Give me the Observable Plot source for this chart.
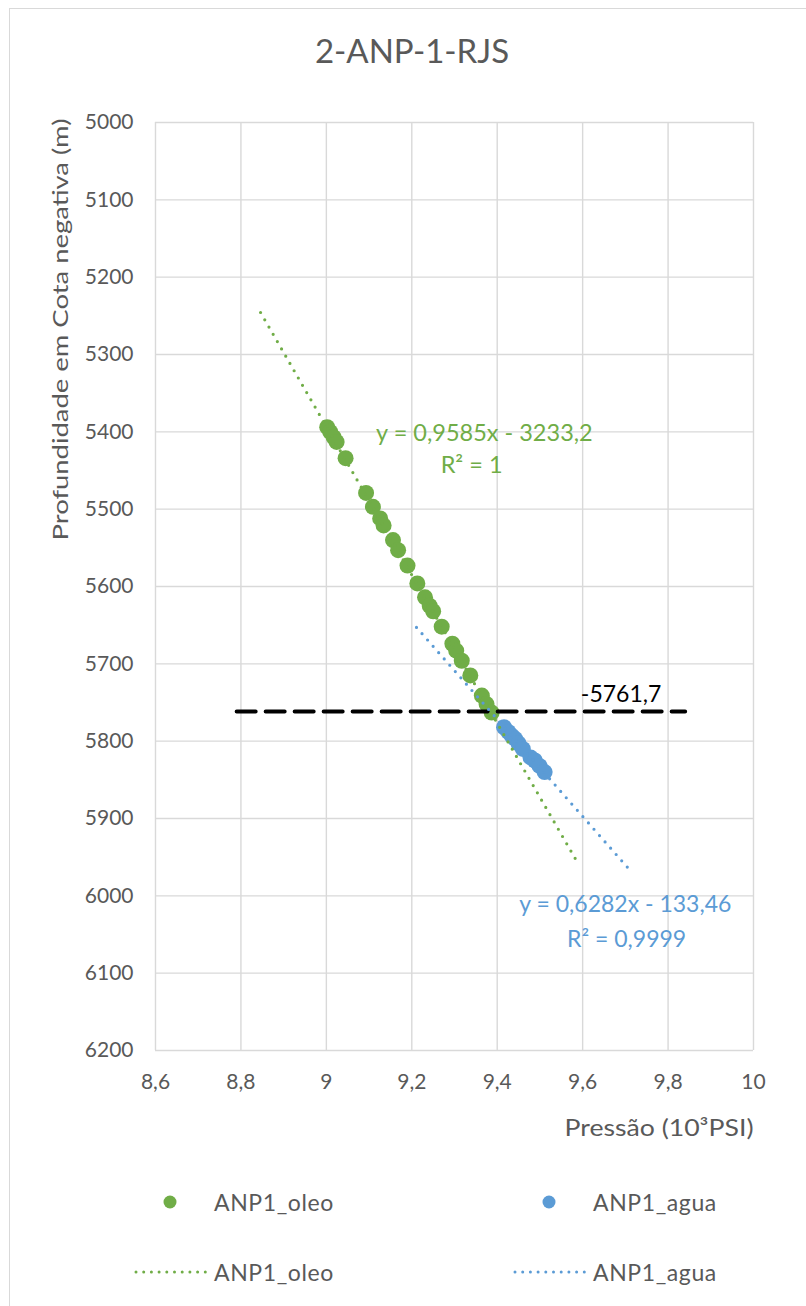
<!DOCTYPE html>
<html>
<head>
<meta charset="utf-8">
<script src="https://cdn.jsdelivr.net/npm/d3@7"></script>
<script src="https://cdn.jsdelivr.net/npm/@observablehq/plot@0.6"></script>
<style>
  html, body { margin: 0; padding: 0; background: #fff; }
  body { font-family: Lato, "Open Sans", sans-serif; color: #595959; width: 806px; height: 1306px; overflow: hidden; position: relative; }
  #frame { position: absolute; left: 9px; top: 8px; width: 820px; height: 1330px; border: 1px solid #d9d9d9; box-sizing: border-box; pointer-events: none; }
  #title { height: 100px; line-height: 100px; text-align: center; padding-left: 18px; font-size: 33px; color: #595959; }
  #plot svg { display: block; }
  #legend { position: relative; height: 156px; font-size: 23px; letter-spacing: 0.6px; color: #595959; }
  .item { position: absolute; height: 30px; }
  .item svg { position: absolute; left: 0; top: 0; }
  .item span { position: absolute; white-space: nowrap; line-height: 30px; }
</style>
</head>
<body>
<div id="frame"></div>
<div id="title">2-ANP-1-RJS</div>
<div id="plot"></div>
<div id="legend"></div>
<script>
// Pressure (10³ psi) and depth below datum (m) for the oil-zone points
const oleoPressao = [9.002, 9.009, 9.017, 9.024, 9.045, 9.093, 9.109, 9.126, 9.134, 9.156, 9.168, 9.190,
                     9.213, 9.231, 9.242, 9.250, 9.270, 9.295, 9.304, 9.317, 9.337, 9.364, 9.375, 9.387];
const oleoProf = [5394, 5400, 5407, 5413, 5434, 5479, 5497, 5512, 5521, 5540, 5553, 5573,
                  5596, 5614, 5625, 5632, 5652, 5674, 5683, 5696, 5715, 5741, 5752, 5763];

// Pressure and depth for the water-zone points
const aguaPressao = [9.416, 9.426, 9.434, 9.442, 9.450, 9.460, 9.478, 9.488, 9.499, 9.511];
const aguaProf = [5782, 5788, 5793, 5797, 5803, 5810, 5821, 5825, 5832, 5840];

// Linear fits (depth = a·P[psi] + b) and the pressure span each fitted line covers
const oleoFit = {a: 0.9585, b: -3233.2, r2: "1"};
const aguaFit = {a: 0.6282, b: -133.46, r2: "0,9999"};
const oleoFitSpan = [8.846, 9.59];
const aguaFitSpan = [9.211, 9.705];

// Fluid contact depth and the pressure span of its marker line
const contatoProf = 5761.7;
const contatoSpan = [8.79, 9.84];

// Axis ticks
const xTicks = [8.6, 8.8, 9, 9.2, 9.4, 9.6, 9.8, 10];
const yTicks = [5000, 5100, 5200, 5300, 5400, 5500, 5600, 5700, 5800, 5900, 6000, 6100, 6200];

const VERDE = "#70AD47";
const AZUL = "#5B9BD5";
const CINZA = "#595959";
const GRADE = "#d9d9d9";

const virgula = (v, casas) => (casas == null ? String(+v.toFixed(4)) : v.toFixed(casas)).replace(".", ",");
const eqTexto = (f) => `y = ${virgula(f.a)}x - ${virgula(-f.b)}`;

const oleo = oleoPressao.map((p, i) => ({p, d: oleoProf[i]}));
const agua = aguaPressao.map((p, i) => ({p, d: aguaProf[i]}));
const reta = (f, span) => span.map(p => ({p, d: f.a * p * 1000 + f.b}));
const contato = contatoSpan.map(p => ({p, d: contatoProf}));

const pontilhado = {strokeWidth: 3.2, strokeDasharray: "0,8.4", strokeLinecap: "round"};

const Y_TITULO = "Profundidade em Cota negativa (m)";
const X_TITULO = "Pressão (10³PSI)";

const chart = Plot.plot({
  width: 806,
  height: 1050,
  marginTop: 22,
  marginRight: 53,
  marginBottom: 100,
  marginLeft: 155,
  style: {fontFamily: "Lato, 'Open Sans', sans-serif", fontSize: "21px", color: CINZA, background: "transparent", overflow: "visible"},
  x: {domain: [8.6, 10]},
  y: {domain: [5000, 6200], reverse: true},
  marks: [
    Plot.gridX(xTicks, {stroke: GRADE, strokeOpacity: 1, strokeWidth: 1.4}),
    Plot.gridY(yTicks, {stroke: GRADE, strokeOpacity: 1, strokeWidth: 1.4}),
    Plot.axisX(xTicks, {tickSize: 0, tickPadding: 24, tickFormat: d => virgula(d), label: null, fill: CINZA}),
    Plot.axisY(yTicks, {tickSize: 0, tickPadding: 22, tickFormat: d => String(d), label: null, fill: CINZA}),
    Plot.dot(oleo, {x: "p", y: "d", r: 8, fill: VERDE}),
    Plot.dot(agua, {x: "p", y: "d", r: 8, fill: AZUL}),
    Plot.line(contato, {x: "p", y: "d", stroke: "#000", strokeWidth: 4, strokeDasharray: "19,10"}),
    Plot.line(reta(oleoFit, oleoFitSpan), {x: "p", y: "d", stroke: VERDE, ...pontilhado}),
    Plot.line(reta(aguaFit, aguaFitSpan), {x: "p", y: "d", stroke: AZUL, ...pontilhado}),
    // Contact depth label
    Plot.text([contatoProf], {x: 9.69, y: d => d, text: d => "-" + virgula(d, 1), dy: -17, fill: "#000", fontSize: 23}),
    // Fit equations
    Plot.text([eqTexto(oleoFit)], {x: 9.37, y: 5402, fill: VERDE, fontSize: 23.5}),
    Plot.text([`R² = ${oleoFit.r2}`], {x: 9.34, y: 5443, fill: VERDE, fontSize: 23.5}),
    Plot.text([eqTexto(aguaFit)], {x: 9.70, y: 6012, fill: AZUL, fontSize: 23}),
    Plot.text([`R² = ${aguaFit.r2}`], {x: 9.703, y: 6057, fill: AZUL, fontSize: 23}),
    // Axis titles
    Plot.text([Y_TITULO], {frameAnchor: "top-left", textAnchor: "middle", rotate: -90, dx: -103, dy: 207, fill: CINZA, fontSize: 22}),
    Plot.text([X_TITULO], {frameAnchor: "bottom-right", textAnchor: "end", dy: 85, fill: CINZA, fontSize: 24})
  ]
});

// Stretch the axis titles over their full spans
d3.select(chart).selectAll("text")
  .filter(function () { return this.textContent === Y_TITULO; })
  .attr("textLength", 422).attr("lengthAdjust", "spacingAndGlyphs");
d3.select(chart).selectAll("text")
  .filter(function () { return this.textContent === X_TITULO; })
  .attr("textLength", 189).attr("lengthAdjust", "spacingAndGlyphs");

document.getElementById("plot").append(chart);

// Legend: markers in one row, fitted lines in the next
const legenda = [
  {tipo: "ponto", cor: VERDE, nome: "ANP1_oleo", x: 134, y: 37},
  {tipo: "ponto", cor: AZUL, nome: "ANP1_agua", x: 513, y: 37},
  {tipo: "linha", cor: VERDE, nome: "ANP1_oleo", x: 134, y: 107},
  {tipo: "linha", cor: AZUL, nome: "ANP1_agua", x: 513, y: 107}
];
const leg = d3.select("#legend");
for (const it of legenda) {
  const div = leg.append("div").attr("class", "item").style("left", it.x + "px").style("top", it.y + "px");
  const s = div.append("svg").attr("width", 74).attr("height", 30);
  if (it.tipo === "ponto") {
    s.append("circle").attr("cx", 36).attr("cy", 15).attr("r", 6.5).attr("fill", it.cor);
  } else {
    s.append("line").attr("x1", 2).attr("x2", 72).attr("y1", 15).attr("y2", 15)
      .attr("stroke", it.cor).attr("stroke-width", 3).attr("stroke-dasharray", "0,7.7").attr("stroke-linecap", "round");
  }
  div.append("span").style("left", "80px").style("top", "0px").text(it.nome);
}
</script>
</body>
</html>
